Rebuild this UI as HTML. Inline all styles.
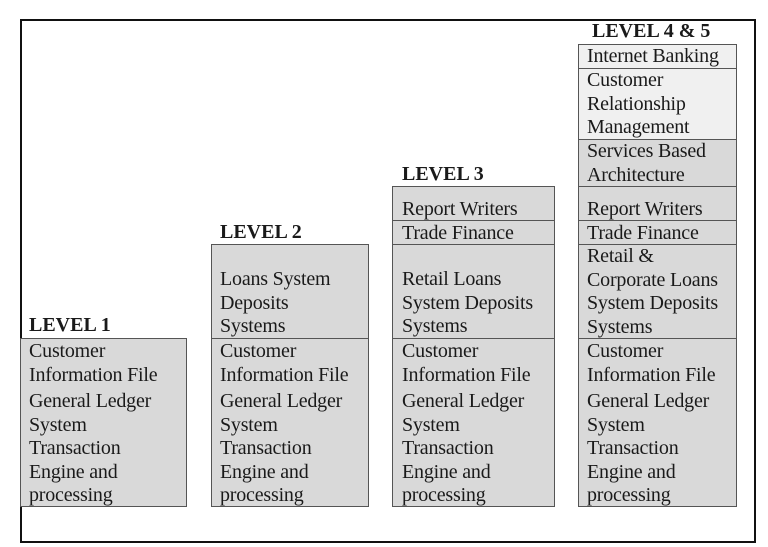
<!DOCTYPE html>
<html><head><style>
body{margin:0;width:768px;height:547px;background:#fff;position:relative;overflow:hidden;font-family:"Liberation Serif",serif;font-size:20px;color:#1a1a1a}
.frame{position:absolute;left:20px;top:19px;width:736px;height:524px;border:2px solid #111;box-sizing:border-box}
.c{position:absolute;box-sizing:border-box;border:1px solid #555;background:#d9d9d9}
.l{background:#f0f0f0}
.t{position:absolute;white-space:nowrap;line-height:23.5px;letter-spacing:-0.2px}
.h{position:absolute;font-weight:bold;white-space:nowrap;font-size:20px}
</style></head><body>
<div class="frame"></div>

<div class="h" style="left:29px;top:314px">LEVEL 1</div>
<div class="c" style="left:20px;top:338px;width:167px;height:169px"></div>

<div class="h" style="left:220px;top:221px">LEVEL 2</div>
<div class="c" style="left:211px;top:244px;width:158px;height:95px"></div>
<div class="c" style="left:211px;top:338px;width:158px;height:169px"></div>

<div class="h" style="left:402px;top:163px">LEVEL 3</div>
<div class="c" style="left:392px;top:186px;width:163px;height:35px"></div>
<div class="c" style="left:392px;top:220px;width:163px;height:25px"></div>
<div class="c" style="left:392px;top:244px;width:163px;height:95px"></div>
<div class="c" style="left:392px;top:338px;width:163px;height:169px"></div>

<div class="h" style="left:592px;top:20px">LEVEL 4 &amp; 5</div>
<div class="c l" style="left:578px;top:44px;width:159px;height:25px"></div>
<div class="c l" style="left:578px;top:68px;width:159px;height:72px"></div>
<div class="c" style="left:578px;top:139px;width:159px;height:48px"></div>
<div class="c" style="left:578px;top:186px;width:159px;height:35px"></div>
<div class="c" style="left:578px;top:220px;width:159px;height:25px"></div>
<div class="c" style="left:578px;top:244px;width:159px;height:95px"></div>
<div class="c" style="left:578px;top:338px;width:159px;height:169px"></div>

<div class="t" style="left:29px;top:339px;line-height:24px">Customer<br>Information File</div>
<div class="t" style="left:29px;top:390px">General Ledger<br>System<br>Transaction<br>Engine and<br>processing</div>

<div class="t" style="left:220px;top:268px">Loans System<br>Deposits<br>Systems</div>
<div class="t" style="left:220px;top:339px;line-height:24px">Customer<br>Information File</div>
<div class="t" style="left:220px;top:390px">General Ledger<br>System<br>Transaction<br>Engine and<br>processing</div>

<div class="t" style="left:402px;top:198px">Report Writers</div>
<div class="t" style="left:402px;top:222px">Trade Finance</div>
<div class="t" style="left:402px;top:268px">Retail Loans<br>System Deposits<br>Systems</div>
<div class="t" style="left:402px;top:339px;line-height:24px">Customer<br>Information File</div>
<div class="t" style="left:402px;top:390px">General Ledger<br>System<br>Transaction<br>Engine and<br>processing</div>

<div class="t" style="left:587px;top:45px">Internet Banking</div>
<div class="t" style="left:587px;top:69px">Customer<br>Relationship<br>Management</div>
<div class="t" style="left:587px;top:140px">Services Based<br>Architecture</div>
<div class="t" style="left:587px;top:198px">Report Writers</div>
<div class="t" style="left:587px;top:222px">Trade Finance</div>
<div class="t" style="left:587px;top:245px">Retail &amp;<br>Corporate Loans<br>System Deposits<br>Systems</div>
<div class="t" style="left:587px;top:339px;line-height:24px">Customer<br>Information File</div>
<div class="t" style="left:587px;top:390px">General Ledger<br>System<br>Transaction<br>Engine and<br>processing</div>
</body></html>
